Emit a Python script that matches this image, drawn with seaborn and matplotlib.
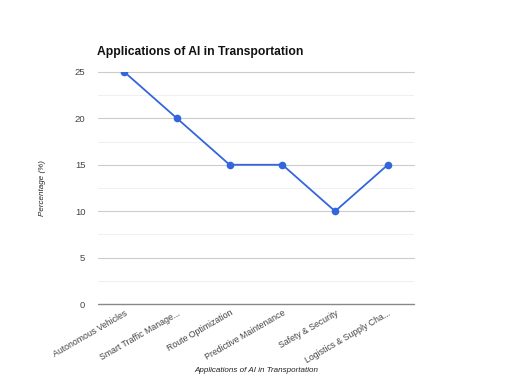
import matplotlib
matplotlib.use('Agg')
import matplotlib.pyplot as plt
import seaborn as sns
import pandas as pd
import numpy as np

categorias = ['Autonomous Vehicles', 'Smart Traffic Manage...', 'Route Optimization',
              'Predictive Maintenance', 'Safety & Security', 'Logistics & Supply Cha...']
porcentajes = [25, 20, 15, 15, 10, 15]

df = pd.DataFrame({'app': categorias, 'pct': porcentajes})

sns.set_style('white')
plt.rcParams['font.family'] = ['Liberation Sans', 'DejaVu Sans']

fig = plt.figure(figsize=(5.12, 3.76), dpi=100)
ax = fig.add_axes([0.191, 0.191, 0.618, 0.618])

x = np.arange(len(categorias))
sns.lineplot(x=x, y=df['pct'], ax=ax, color='#3366dd', linewidth=1.3,
             marker='o', markersize=5.5, markeredgewidth=0)

ax.set_xlim(-0.5, len(categorias) - 0.5)
ax.set_ylim(0, 25)
ax.set_yticks([0, 5, 10, 15, 20, 25])
for v in np.arange(2.5, 25, 5):
    ax.axhline(v, color='#f0f0f0', linewidth=0.8, zorder=0)
for v in [5, 10, 15, 20, 25]:
    ax.axhline(v, color='#cccccc', linewidth=0.8, zorder=0, clip_on=False)
ax.axhline(0, color='#888888', linewidth=1.0, zorder=1, clip_on=False)

ax.set_xticks(x)
ax.set_xticklabels(categorias, rotation=30, ha='right', rotation_mode='anchor',
                   fontsize=6.3, color='#444444')
ax.tick_params(axis='y', labelsize=6.8, labelcolor='#444444', length=0, pad=9)
ax.tick_params(axis='x', length=0, pad=3)
for s in ax.spines.values():
    s.set_visible(False)

ax.set_xlabel('Applications of AI in Transportation', fontsize=5.8, style='italic',
              color='#222222', labelpad=2)
ax.set_ylabel('Percentage (%)', fontsize=5.8, style='italic', color='#222222', labelpad=21)
ax.set_title('Applications of AI in Transportation', fontsize=8.7, fontweight='bold',
             loc='left', x=-0.003, pad=12, color='#111111')

plt.savefig('out.png', dpi=100)
